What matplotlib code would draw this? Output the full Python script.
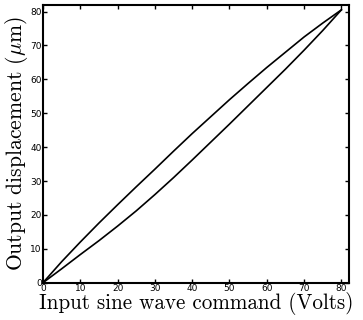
import matplotlib
matplotlib.use('Agg')
import matplotlib.pyplot as plt

# valores (ramo superior e inferior do laco de histerese)
comando = [0, 5, 10, 15, 20, 25, 30, 35, 40, 45, 50, 55, 60, 65, 70, 75, 80]
ramo_superior = [0, 6.2, 12, 17.6, 23, 28.3, 33.5, 38.8, 44, 49, 54,
                 58.8, 63.5, 68, 72.5, 76.6, 80.5]
ramo_inferior = [0, 4.1, 8.3, 12.4, 16.7, 21.2, 26, 31, 36.2, 41.5, 46.8,
                 52.2, 57.6, 63, 68.6, 74.4, 80.5]
ticks = [0, 10, 20, 30, 40, 50, 60, 70, 80]

plt.rcParams['mathtext.fontset'] = 'cm'

fig = plt.figure(figsize=(3.63, 3.2), dpi=100)
ax = fig.add_axes([0.1185, 0.1166, 0.8425, 0.8685])

ax.plot(comando, ramo_superior, color='black', lw=1.2)
ax.plot(comando, ramo_inferior, color='black', lw=1.2)

ax.set_xlim(0, 82)
ax.set_ylim(0, 82)
ax.set_xticks(ticks)
ax.set_yticks(ticks)
ax.tick_params(direction='in', length=3, width=1, labelsize=6.5, pad=1,
               top=True, right=True)
for s in ax.spines.values():
    s.set_linewidth(1.5)

ax.set_xlabel('Input sine wave command (Volts)', family='cmr10',
              fontsize=15.2, labelpad=-1)
ax.set_ylabel(r'Output displacement ($\mu$m)', family='cmr10',
              fontsize=15.6, labelpad=0)

plt.savefig('out.png', dpi=100)
